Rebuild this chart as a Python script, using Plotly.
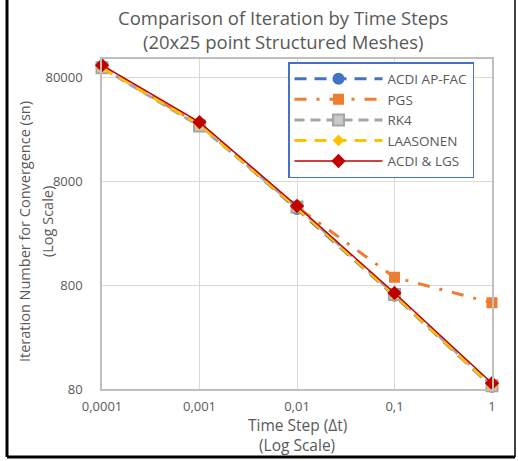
import plotly.graph_objects as go
import math

time_steps = [0.0001, 0.001, 0.01, 0.1, 1]
x_tick_labels = ["0,0001", "0,001", "0,01", "0,1", "1"]
y_tick_vals = [80, 800, 8000, 80000]
y_tick_labels = ["80", "800", "8000", "80000"]

acdi_ap_fac = [100000, 28000, 4300, 630, 84]
pgs = [98000, 28000, 4500, 950, 540]
rk4 = [98000, 27000, 4500, 650, 86]
laasonen = [99000, 28000, 4400, 640, 85]
acdi_lgs = [104000, 29500, 4600, 670, 91]

fig = go.Figure()

fig.add_trace(go.Scatter(
    x=time_steps, y=acdi_ap_fac, name="ACDI AP-FAC", mode="lines+markers",
    line=dict(color="#4472C4", width=3, dash="12px,8px"),
    marker=dict(symbol="circle", size=12, color="#4472C4"),
    cliponaxis=False))
fig.add_trace(go.Scatter(
    x=time_steps, y=pgs, name="PGS", mode="lines+markers",
    line=dict(color="#ED7D31", width=3, dash="12px,10px,3px,10px"),
    marker=dict(symbol="square", size=11, color="#ED7D31"),
    cliponaxis=False))
fig.add_trace(go.Scatter(
    x=time_steps, y=rk4, name="RK4", mode="lines+markers",
    line=dict(color="#A5A5A5", width=3, dash="10px,6px"),
    marker=dict(symbol="square", size=11, color="#C9C9C9",
                line=dict(color="#A5A5A5", width=2)),
    cliponaxis=False))
fig.add_trace(go.Scatter(
    x=time_steps, y=laasonen, name="LAASONEN", mode="lines+markers",
    line=dict(color="#FFC000", width=3, dash="12px,8px"),
    marker=dict(symbol="diamond", size=9, color="#FFC000"),
    cliponaxis=False))
fig.add_trace(go.Scatter(
    x=time_steps, y=acdi_lgs, name="ACDI & LGS", mode="lines+markers",
    line=dict(color="#C00000", width=1.5),
    marker=dict(symbol="diamond", size=11, color="#C00000"),
    cliponaxis=False))

font_fam = "Open Sans, Liberation Sans, sans-serif"
grey = "#595959"
ymin = math.log10(80)
ymax = ymin + (389 - 59) / 104.0

PL, PR, PT, PB = 102, 492, 59, 389
PW, PH = PR - PL, PB - PT


def px(xpix):
    return (xpix - PL) / PW


def py(ypix):
    return (PB - ypix) / PH


fig.update_layout(
    width=518, height=461,
    margin=dict(l=PL, r=518 - PR, t=PT, b=461 - PB, autoexpand=False),
    paper_bgcolor="white", plot_bgcolor="white",
    font=dict(family=font_fam, color=grey, size=13),
    showlegend=True,
    legend=dict(x=px(288), y=py(62), xanchor="left", yanchor="top",
                bgcolor="white", bordercolor="#4472C4", borderwidth=1.5,
                font=dict(size=13.5, color=grey),
                tracegroupgap=0, itemwidth=88),
)

fig.update_xaxes(type="log", range=[-4, 0], tickvals=time_steps, ticktext=x_tick_labels,
                 showgrid=True, gridcolor="#D9D9D9", gridwidth=1,
                 showline=True, linecolor="#BFBFBF", linewidth=1.5, mirror=True,
                 ticks="", ticklabelstandoff=5, zeroline=False,
                 tickfont=dict(size=13, color=grey))
fig.update_yaxes(type="log", range=[ymin, ymax], tickvals=y_tick_vals, ticktext=y_tick_labels,
                 showgrid=True, gridcolor="#D9D9D9", gridwidth=1,
                 showline=True, linecolor="#BFBFBF", linewidth=1.5, mirror=True,
                 ticks="", ticklabelstandoff=15, zeroline=False,
                 tickfont=dict(size=13, color=grey))

texts = [
    ("Comparison of Iteration by Time Steps", 283, 17, 18.5, 0),
    ("(20x25 point Structured Meshes)", 283, 41, 18.5, 0),
    ("Time Step (\u0394t)", 297, 425, 15.5, 0),
    ("(Log Scale)", 297, 445, 15.5, 0),
    ("Iteration Number for Convergence (sn)", 25, 232, 14.5, -90),
    ("(Log Scale)", 47, 222, 14.5, -90),
]
for t, xp, yp, fs, ang in texts:
    fig.add_annotation(text=t, x=px(xp), y=py(yp), xref="paper", yref="paper",
                       xanchor="center", yanchor="middle", showarrow=False,
                       textangle=ang, font=dict(size=fs, color=grey, family=font_fam))

# outer black frame (left, bottom, right)
fig.add_shape(type="line", xref="paper", yref="paper", x0=px(7), x1=px(7),
              y0=py(457), y1=py(0), line=dict(color="black", width=3))
fig.add_shape(type="line", xref="paper", yref="paper", x0=px(7), x1=px(515),
              y0=py(457), y1=py(457), line=dict(color="black", width=3))
fig.add_shape(type="line", xref="paper", yref="paper", x0=px(515), x1=px(515),
              y0=py(457), y1=py(0), line=dict(color="black", width=1.5))

fig.write_html("out.html", config={"displayModeBar": False},
               post_script="document.body.style.margin='0';document.body.style.padding='0';")
